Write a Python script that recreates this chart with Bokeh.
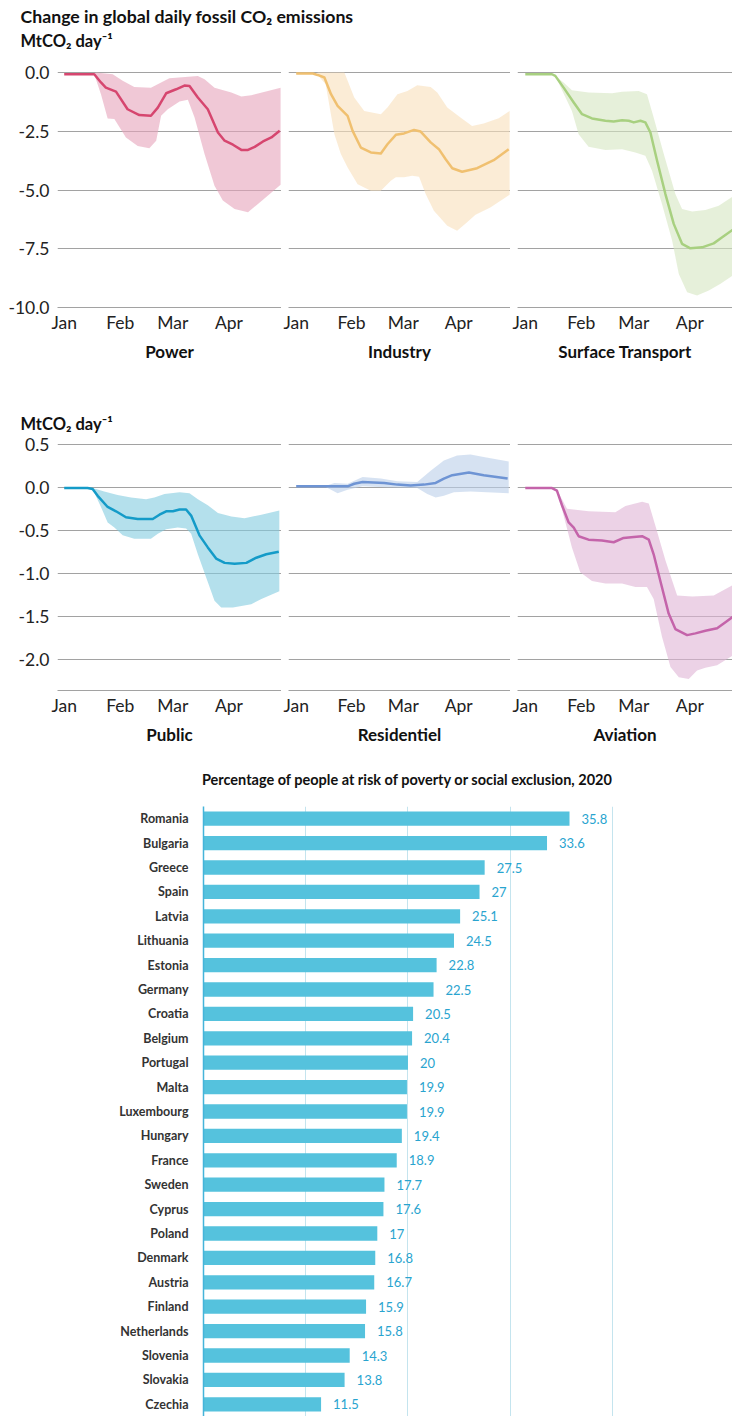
from bokeh.plotting import figure
from bokeh.layouts import column, row
from bokeh.models import (Range1d, FixedTicker, Grid, Label, FactorRange, Title,
                          ColumnDataSource, NumeralTickFormatter)
from bokeh.core.properties import value
from bokeh.embed import file_html
from bokeh.resources import INLINE

FONT = "Lato"

# ---------------- data: daily change in fossil CO2 (MtCO2/day), x = day of year 2020 ----
month_ticks = [1, 32, 61, 92]
month_names = ["Jan", "Feb", "Mar", "Apr"]

pw_line_d = [1, 17.6, 21.3, 24, 29.6, 36, 42.5, 48.9, 52.7, 57.3, 62.8, 67.4, 70.2, 74.8, 80.3, 85.9, 89.6, 94.2, 98.8, 102.5, 106.2, 110.8, 115.4, 120]
pw_line_v = [-0.07, -0.07, -0.42, -0.64, -0.81, -1.56, -1.81, -1.84, -1.49, -0.88, -0.71, -0.55, -0.57, -1.06, -1.56, -2.55, -2.90, -3.07, -3.29, -3.29, -3.16, -2.93, -2.76, -2.48]
pw_up_d = [17.6, 18.5, 27.8, 33.3, 39.7, 48.9, 54.5, 59.1, 74.8, 78.5, 84, 93.3, 98.8, 104.3, 113.5, 120.5]
pw_up_v = [-0.07, 0, -0.07, -0.35, -0.61, -0.64, -0.42, -0.24, -0.14, -0.28, -0.64, -0.85, -1.02, -0.96, -0.78, -0.64]
pw_lo_d = [17.6, 21.3, 25, 28.7, 35.1, 41.6, 48, 51.8, 54.5, 58.2, 64.7, 69.3, 73, 78.5, 84, 88.6, 95.1, 102.5, 108, 114.5, 120.5]
pw_lo_v = [-0.07, -0.92, -1.95, -1.98, -2.76, -3.12, -3.22, -2.90, -1.84, -1.56, -1.23, -1.16, -1.91, -3.47, -4.82, -5.45, -5.81, -5.95, -5.59, -5.17, -4.77]

in_line_d = [1, 10.3, 13, 16.8, 20.5, 24.2, 29.8, 32.6, 37.2, 42.8, 48.4, 52.1, 56.8, 61.4, 67, 70.7, 76.3, 80.9, 84.6, 88.4, 93.9, 102.3, 111.6, 120]
in_line_v = [-0.04, -0.04, -0.10, -0.21, -0.92, -1.42, -1.84, -2.48, -3.19, -3.40, -3.44, -3.05, -2.65, -2.59, -2.44, -2.51, -2.97, -3.26, -3.68, -4.07, -4.22, -4.07, -3.73, -3.26]
in_up_d = [13, 28, 33.5, 39.1, 48.4, 52.1, 57.7, 63.3, 68.8, 76.3, 80, 85.6, 93, 99.5, 106, 114.4, 120.5]
in_up_v = [0, 0, -1.06, -1.63, -1.77, -1.49, -0.92, -0.78, -0.54, -0.61, -0.85, -1.49, -1.91, -2.27, -2.17, -1.94, -1.63]
in_lo_d = [13, 17.5, 22.4, 26, 29.8, 35.4, 42.8, 48.4, 54, 56.8, 61.4, 66, 69.8, 73.5, 78.1, 85.6, 91.1, 96.7, 101.4, 109.7, 120.5]
in_lo_v = [-0.10, -0.50, -2.62, -3.47, -4.04, -4.75, -5.03, -5.03, -4.60, -4.46, -4.46, -4.39, -4.43, -5.17, -5.88, -6.52, -6.73, -6.37, -6.05, -5.74, -5.20]

st_line_d = [1, 15.8, 17.6, 22.2, 27.8, 32.4, 37.9, 45.3, 49.9, 54.5, 58.2, 61, 64.7, 67.4, 70.2, 73.9, 78.5, 83.1, 87.7, 92.3, 98.8, 105.2, 109.9, 115.6, 120]
st_line_v = [-0.07, -0.07, -0.14, -0.64, -1.27, -1.77, -1.95, -2.05, -2.08, -2.03, -2.05, -2.12, -2.05, -2.12, -2.55, -3.75, -5.17, -6.44, -7.29, -7.48, -7.44, -7.27, -7.01, -6.70, -6.60]
st_up_d = [15.8, 17.6, 22.2, 26.8, 36, 49, 54.5, 63.7, 68.3, 72, 77.6, 84, 87.7, 93.3, 100.6, 108, 115.6, 120.5]
st_up_v = [-0.07, -0.14, -0.42, -0.75, -0.85, -0.88, -0.81, -0.78, -0.92, -1.91, -3.47, -5.17, -5.81, -5.91, -5.85, -5.67, -5.28, -5.10]
st_lo_d = [15.8, 17.6, 26.8, 30.5, 36, 45.3, 54.5, 61.9, 67.4, 71.1, 76.6, 82.2, 85.9, 90.5, 96, 102.5, 109, 115.6, 120.5]
st_lo_v = [-0.07, -0.14, -1.63, -2.62, -3.16, -3.30, -3.26, -3.40, -3.54, -4.18, -5.59, -7.15, -8.57, -9.35, -9.49, -9.28, -8.99, -8.64, -8.50]

pb_line_d = [1, 13.9, 16.7, 19.5, 25, 29.6, 35.1, 41.6, 49.9, 53.6, 57.3, 61, 64.7, 68.3, 71.1, 75.7, 80.3, 84.9, 89.6, 95.1, 101.6, 107.1, 112.6, 119.5]
pb_line_v = [-0.01, -0.01, -0.02, -0.10, -0.23, -0.28, -0.35, -0.37, -0.37, -0.32, -0.28, -0.28, -0.26, -0.26, -0.33, -0.56, -0.70, -0.83, -0.88, -0.89, -0.88, -0.82, -0.78, -0.75]
pb_up_d = [16.7, 23.1, 30.5, 37.9, 46.2, 50.8, 56.4, 64.7, 70.2, 74.8, 80.3, 85.9, 93.3, 100.6, 109.9, 119.8]
pb_up_v = [-0.01, -0.05, -0.09, -0.12, -0.14, -0.12, -0.08, -0.06, -0.07, -0.14, -0.21, -0.30, -0.34, -0.36, -0.32, -0.27]
pb_lo_d = [16.7, 21.3, 25, 28.7, 33.3, 39.7, 48.9, 52.7, 57.3, 63.7, 68.3, 71.1, 74.8, 79.4, 84, 87.7, 94.2, 104.3, 109.9, 119.8]
pb_lo_v = [-0.02, -0.23, -0.41, -0.47, -0.56, -0.60, -0.60, -0.54, -0.49, -0.47, -0.48, -0.54, -0.78, -1.05, -1.32, -1.40, -1.40, -1.36, -1.30, -1.21]

rs_line_d = [1, 29.8, 33.5, 38.2, 50.3, 57.7, 65.1, 72.6, 79.1, 83.7, 88.4, 97.7, 106, 119.4]
rs_line_v = [0.01, 0.01, 0.04, 0.06, 0.05, 0.03, 0.02, 0.03, 0.05, 0.10, 0.14, 0.17, 0.14, 0.10]
rs_up_d = [16.8, 22.4, 29.8, 38.2, 48.4, 57.7, 68.8, 76.3, 83.7, 91.1, 98.6, 106, 120]
rs_up_v = [0.01, 0.05, 0.04, 0.12, 0.10, 0.07, 0.06, 0.19, 0.31, 0.37, 0.38, 0.35, 0.30]
rs_lo_d = [16.8, 24.2, 29.8, 38.2, 50.3, 68.8, 74.4, 79.1, 83.7, 89.3, 98.6, 120]
rs_lo_v = [0.01, -0.07, -0.03, 0.01, 0.0, -0.01, -0.08, -0.12, -0.10, -0.06, -0.05, -0.07]

av_line_d = [1, 15.8, 18.5, 21.3, 25, 27.8, 30.5, 36, 43.4, 49.9, 55.4, 61, 65.6, 69.3, 72, 75.7, 80.3, 84, 90.5, 95.1, 100.6, 107.1, 111.7, 115.6, 120]
av_line_v = [-0.01, -0.01, -0.04, -0.21, -0.41, -0.47, -0.57, -0.61, -0.62, -0.64, -0.59, -0.58, -0.57, -0.61, -0.78, -1.09, -1.47, -1.65, -1.72, -1.70, -1.67, -1.64, -1.57, -1.51, -1.46]
av_up_d = [15.8, 18.5, 24.1, 36, 50.8, 56.4, 65.6, 69.3, 73, 78.5, 85, 93.3, 105.2, 115.6, 120.5]
av_up_v = [-0.01, -0.03, -0.25, -0.28, -0.29, -0.22, -0.17, -0.19, -0.45, -0.85, -1.26, -1.27, -1.26, -1.14, -1.10]
av_lo_d = [15.8, 18.5, 26.8, 31.4, 37.9, 45.3, 54.5, 61.9, 68.3, 72, 76.6, 81.3, 85.9, 91.4, 96, 100.6, 107.1, 115.6, 120.5]
av_lo_v = [-0.01, -0.03, -0.70, -0.99, -1.09, -1.12, -1.12, -1.16, -1.16, -1.30, -1.74, -2.09, -2.21, -2.23, -2.13, -2.10, -2.07, -1.96, -1.92]

# ---------------- data: poverty bar chart ----------------
countries = ["Romania", "Bulgaria", "Greece", "Spain", "Latvia", "Lithuania", "Estonia",
             "Germany", "Croatia", "Belgium", "Portugal", "Malta", "Luxembourg", "Hungary",
             "France", "Sweden", "Cyprus", "Poland", "Denmark", "Austria", "Finland",
             "Netherlands", "Slovenia", "Slovakia", "Czechia"]
poverty = [35.8, 33.6, 27.5, 27, 25.1, 24.5, 22.8, 22.5, 20.5, 20.4, 20, 19.9, 19.9, 19.4,
           18.9, 17.7, 17.6, 17, 16.8, 16.7, 15.9, 15.8, 14.3, 13.8, 11.5]
poverty_ticks = [10, 20, 30, 40]

# ---------------- layout / style ----------------
W = 732
GRID = "#a2a2a2"
UNIT = "MtCO₂ day⁻¹"
ROWS = {
    1: dict(height=344, top=6, bottom=93, y=(-10, 0.43), ticks=[-10, -7.5, -5, -2.5, 0]),
    2: dict(height=358, top=40, bottom=68, y=(-2.364, 0.543), ticks=[-2, -1.5, -1, -0.5, 0, 0.5]),
}
COLS = [dict(width=281, left=57, x=(-2.7, 121)),
        dict(width=229, left=7, x=(-3.3, 121)),
        dict(width=222, left=7, x=(-3.3, 115.6))]


def header(h, labels):
    p = figure(width=W, height=h, x_range=Range1d(0, W), y_range=Range1d(0, h),
               min_border=0, toolbar_location=None, output_backend="svg",
               x_axis_location=None, y_axis_location=None, frame_align=False)
    p.grid.visible = False
    p.outline_line_color = None
    for (x, y, t, size, align) in labels:
        p.add_layout(Label(x=x, y=y, text=t, text_font=FONT, text_font_size=size,
                           text_font_style="bold", text_color="#111111",
                           text_align=align, text_baseline="alphabetic"))
    return p


def panel(r, c, name, line_d, line_v, up_d, up_v, lo_d, lo_v, lc, bc):
    R, C = ROWS[r], COLS[c]
    p = figure(width=C["width"], height=R["height"],
               x_range=Range1d(*C["x"]), y_range=Range1d(*R["y"]),
               toolbar_location=None, output_backend="svg", frame_align=False,
               y_axis_location="left" if c == 0 else None,
               min_border_left=C["left"], min_border_right=0,
               min_border_top=R["top"], min_border_bottom=R["bottom"])
    p.outline_line_color = None
    p.grid.visible = False
    p.add_layout(Grid(dimension=1, ticker=FixedTicker(ticks=R["ticks"]),
                      grid_line_color=GRID, grid_line_width=1))
    if c == 0:
        ax = p.yaxis[0]
        ax.ticker = FixedTicker(ticks=R["ticks"])
        ax.formatter = NumeralTickFormatter(format="0.0")
        ax.axis_line_color = None
        ax.major_tick_line_color = None
        ax.major_tick_out = 0
        ax.major_tick_in = 0
        ax.minor_tick_line_color = None
        ax.major_label_standoff = 8
        ax.major_label_text_font = FONT
        ax.major_label_text_font_size = "17.5px"
        ax.major_label_text_color = "#222222"
        if r == 2:
            p.add_layout(Title(text=UNIT, align="left", offset=-37, standoff=14,
                               text_font=FONT, text_font_size="16.5px",
                               text_font_style="bold", text_color="#111111"), "above")
    xa = p.xaxis[0]
    xa.ticker = FixedTicker(ticks=month_ticks)
    xa.major_label_overrides = {t: m for t, m in zip(month_ticks, month_names)}
    xa.axis_line_color = GRID
    xa.major_tick_line_color = None
    xa.major_tick_out = 0
    xa.major_tick_in = 0
    xa.minor_tick_line_color = None
    xa.major_label_standoff = 4
    xa.major_label_text_font = FONT
    xa.major_label_text_font_size = "17.5px"
    xa.major_label_text_color = "#222222"
    xa.axis_label = name
    xa.axis_label_standoff = 5
    xa.axis_label_text_font = FONT
    xa.axis_label_text_font_size = "17px"
    xa.axis_label_text_font_style = "bold"
    xa.axis_label_text_color = "#111111"

    p.patch(x=list(up_d) + list(lo_d)[::-1], y=list(up_v) + list(lo_v)[::-1],
            fill_color=bc, fill_alpha=0.6, line_color=None)
    p.line(x=line_d, y=line_v, line_color=lc, line_width=2.5, line_join="round")
    return p


h1 = header(56, [(20, 40, "Change in global daily fossil CO₂ emissions", "17.7px", "left"),
                 (20, 15.5, UNIT, "16.5px", "left")])
row1 = row(
    panel(1, 0, "Power", pw_line_d, pw_line_v, pw_up_d, pw_up_v, pw_lo_d, pw_lo_v, "#d6466f", "#e6a3bb"),
    panel(1, 1, "Industry", in_line_d, in_line_v, in_up_d, in_up_v, in_lo_d, in_lo_v, "#f0c070", "#f8dfbb"),
    panel(1, 2, "Surface Transport", st_line_d, st_line_v, st_up_d, st_up_v, st_lo_d, st_lo_v, "#a8d080", "#d5e6c1"),
)
row2 = row(
    panel(2, 0, "Public", pb_line_d, pb_line_v, pb_up_d, pb_up_v, pb_lo_d, pb_lo_v, "#149bc8", "#82cbdf"),
    panel(2, 1, "Residentiel", rs_line_d, rs_line_v, rs_up_d, rs_up_v, rs_lo_d, rs_lo_v, "#6e94d4", "#bbcfe9"),
    panel(2, 2, "Aviation", av_line_d, av_line_v, av_up_d, av_up_v, av_lo_d, av_lo_v, "#c464aa", "#dfb4d5"),
)

h3 = header(42, [(407, 21, "Percentage of people at risk of poverty or social exclusion, 2020", "14.5px", "center")])

src = ColumnDataSource(dict(country=countries, value=poverty,
                            label=[f"{v:g}" for v in poverty]))
bar = figure(width=W, height=616, y_range=FactorRange(*countries[::-1]),
             x_range=Range1d(0, 40.2), toolbar_location=None, output_backend="svg",
             x_axis_location=None, frame_align=False,
             min_border_left=203, min_border_right=118, min_border_top=6, min_border_bottom=0)
bar.outline_line_color = None
bar.grid.visible = False
bar.add_layout(Grid(dimension=0, ticker=FixedTicker(ticks=poverty_ticks),
                    grid_line_color="#c4e4ee", grid_line_width=1))
bar.hbar(y="country", right="value", left=0, height=0.585, source=src,
         fill_color="#55c2dd", line_color=None)
bar.text(x="value", y="country", text="label", source=src, x_offset=12,
         text_baseline="middle", text_align="left", text_font=value(FONT),
         text_font_size="13px", text_color="#29a4cf")
ya = bar.yaxis[0]
ya.axis_line_color = "#45b4d9"
ya.axis_line_width = 1.5
ya.major_tick_line_color = None
ya.major_tick_out = 0
ya.major_tick_in = 0
ya.minor_tick_line_color = None
ya.major_label_standoff = 15
ya.major_label_text_font = FONT
ya.major_label_text_font_size = "12.5px"
ya.major_label_text_font_style = "bold"
ya.major_label_text_color = "#333333"

layout = column(h1, row1, row2, h3, bar)
open("out.html", "w").write(file_html(layout, INLINE))
